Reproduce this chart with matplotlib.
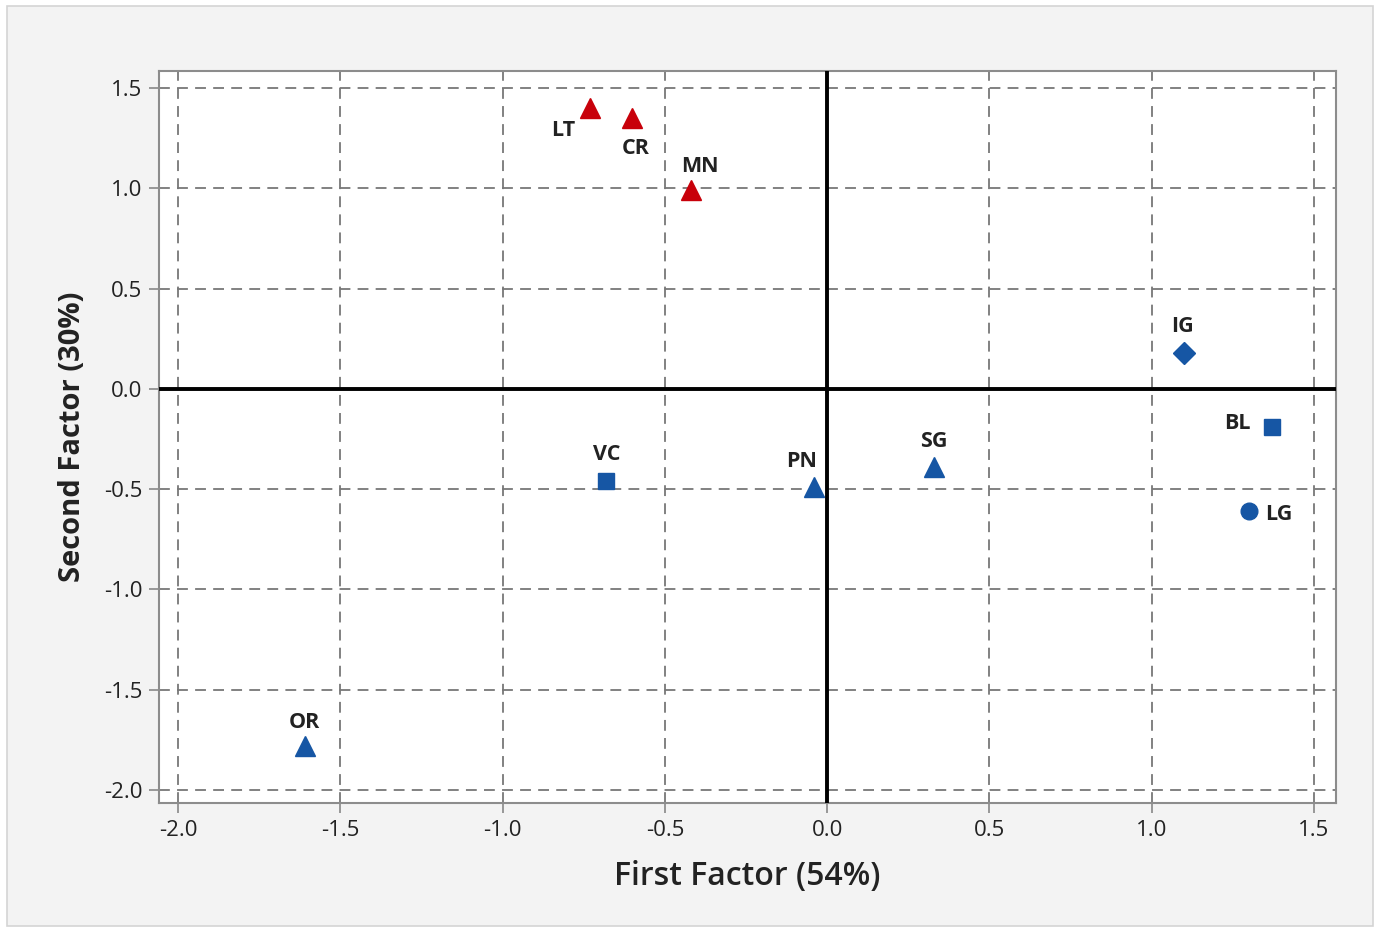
import matplotlib
matplotlib.use("Agg")
import matplotlib.pyplot as plt
from matplotlib.patches import Rectangle

# factor scores
names = ["LT", "CR", "MN", "IG", "BL", "LG", "SG", "PN", "VC", "OR"]
first_factor = [-0.73, -0.60, -0.42, 1.10, 1.37, 1.30, 0.33, -0.04, -0.68, -1.61]
second_factor = [1.40, 1.35, 0.99, 0.18, -0.19, -0.61, -0.39, -0.49, -0.46, -1.78]
groups = ["red", "red", "red", "blue", "blue", "blue", "blue", "blue", "blue", "blue"]
shapes = ["^", "^", "^", "D", "s", "o", "^", "^", "s", "^"]
ticks = [-2.0, -1.5, -1.0, -0.5, 0.0, 0.5, 1.0, 1.5]

colors = {"red": "#c8000a", "blue": "#1656a4"}
sizes = {"^": 15, "D": 11, "s": 12, "o": 12}
# label offsets in pixels (dx, dy)
offsets = {"LT": (-27, -22), "CR": (3, -30), "MN": (9, 24), "IG": (-2, 26),
           "BL": (-34, 4), "LG": (30, -3), "SG": (0, 26), "PN": (-13, 26),
           "VC": (0, 27), "OR": (0, 23)}

plt.rcParams["font.family"] = ["Open Sans", "DejaVu Sans"]

fig = plt.figure(figsize=(13.8, 9.3), dpi=100, facecolor="white")
fig.patches.append(Rectangle((7 / 1380, 4 / 930), 1366 / 1380, 920 / 930,
                             transform=fig.transFigure, facecolor="#f3f3f3",
                             edgecolor="#d4d4d4", lw=1.2, zorder=-1))

ax = fig.add_axes([159 / 1380, 1 - 803 / 930, 1177 / 1380, 732 / 930])
ax.set_facecolor("white")

for name, x, y, g, m in zip(names, first_factor, second_factor, groups, shapes):
    ax.plot(x, y, marker=m, ms=sizes[m], color=colors[g], mec=colors[g],
            ls="none", zorder=5)
    ax.annotate(name, (x, y), xytext=offsets[name], textcoords="offset pixels",
                ha="center", va="center", fontsize=15.5, fontweight="bold",
                color="#222222", zorder=6)

ax.axhline(0, color="black", lw=2.8, zorder=3)
ax.axvline(0, color="black", lw=2.8, zorder=3)

ax.set_xlim(-2.0585, 1.568)
ax.set_ylim(-2.065, 1.586)
ax.set_xticks(ticks)
ax.set_yticks(ticks)
ax.set_xticklabels([f"{t:.1f}" for t in ticks])
ax.set_yticklabels([f"{t:.1f}" for t in ticks])
ax.grid(True, ls=(0, (6, 4)), color="#777777", lw=1.3, zorder=1)
ax.tick_params(direction="out", length=7, width=1.2, color="#888888",
               labelsize=16, labelcolor="#222222", pad=5)
for s in ax.spines.values():
    s.set_color("#8c8c8c")
    s.set_linewidth(1.5)

ax.set_xlabel("First Factor (54%)", fontsize=23, fontweight="semibold",
              color="#222222", labelpad=14)
ax.set_ylabel("Second Factor (30%)", fontsize=21, fontweight="bold",
              color="#222222", labelpad=12)

fig.savefig("out.png", dpi=100, facecolor=fig.get_facecolor())
